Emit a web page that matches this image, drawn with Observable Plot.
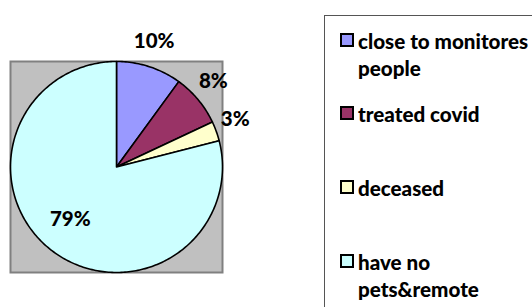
<!DOCTYPE html>
<html>
<head>
<meta charset="utf-8">
<script src="https://cdn.jsdelivr.net/npm/d3@7"></script>
<script src="https://cdn.jsdelivr.net/npm/@observablehq/plot@0.6"></script>
<style>
  html, body { margin: 0; padding: 0; background: #fff; overflow: hidden; }
  #wrap { position: relative; width: 532px; height: 307px; overflow: hidden; }
  #legend { position: absolute; left: 324px; top: 15px; width: 260px; height: 320px;
            border: 1.2px solid #555; box-sizing: border-box; background: #fff; }
  .entry { position: absolute; left: 15px; display: flex; align-items: flex-start; }
  .sw { width: 10px; height: 10px; border: 2px solid #000; margin-top: 5px; flex: none; }
  .lab { margin-left: 4px; width: 176px; font: 900 20.6px Lato, sans-serif; line-height: 27px; color: #000; }
</style>
</head>
<body>
<div id="wrap"></div>
<script>
const categories = ["close to monitores people", "treated covid", "deceased", "have no pets&remote"];
const values = [10, 8, 3, 79];
const percentLabels = ["10%", "8%", "3%", "79%"];
const colors = ["#9999FF", "#993366", "#FFFFCC", "#CCFFFF"];

const arcs = d3.pie().sort(null).value(d => d)(values);

// slice outlines sampled along the arc (geometry from pie angles)
const slicePts = [];
arcs.forEach((a, i) => {
  slicePts.push({cat: categories[i], x: 0, y: 0});
  const n = Math.max(2, Math.ceil((a.endAngle - a.startAngle) / (Math.PI / 180)));
  for (let k = 0; k <= n; k++) {
    const t = a.startAngle + (a.endAngle - a.startAngle) * k / n;
    slicePts.push({cat: categories[i], x: Math.sin(t), y: Math.cos(t)});
  }
});

const labelData = arcs.map((a, i) => {
  const mid = (a.startAngle + a.endAngle) / 2;
  const r = values[i] >= 50 ? 0.68 : 1.21;
  return {text: percentLabels[i], x: r * Math.sin(mid), y: r * Math.cos(mid)};
});

const chart = Plot.plot({
  width: 532,
  height: 307,
  marginLeft: 10,
  marginRight: 310,
  marginTop: 61,
  marginBottom: 35,
  style: {background: "transparent", overflow: "visible"},
  x: {domain: [-1, 1], axis: null},
  y: {domain: [-1, 1], axis: null},
  color: {domain: categories, range: colors},
  marks: [
    Plot.frame({fill: "#C0C0C0", stroke: "#808080", strokeWidth: 2}),
    Plot.line(slicePts, {x: "x", y: "y", z: "cat", fill: "cat", stroke: "#000", strokeWidth: 1.6, curve: "linear-closed", strokeLinejoin: "round"}),
    Plot.text(labelData, {x: "x", y: "y", text: "text", dx: -2, dy: -4, fontSize: 20.5, fontWeight: 900, fontFamily: "Lato, sans-serif", fill: "#000"})
  ]
});

const wrap = document.getElementById("wrap");
wrap.appendChild(chart);
chart.style.position = "absolute";
chart.style.left = "0px";
chart.style.top = "0px";

const legend = document.createElement("div");
legend.id = "legend";
const tops = [11.5, 85, 159, 233];
categories.forEach((c, i) => {
  const e = document.createElement("div");
  e.className = "entry";
  e.style.top = tops[i] + "px";
  const sw = document.createElement("div");
  sw.className = "sw";
  sw.style.background = colors[i];
  const lab = document.createElement("div");
  lab.className = "lab";
  lab.textContent = c;
  e.appendChild(sw);
  e.appendChild(lab);
  legend.appendChild(e);
});
wrap.appendChild(legend);
</script>
</body>
</html>
